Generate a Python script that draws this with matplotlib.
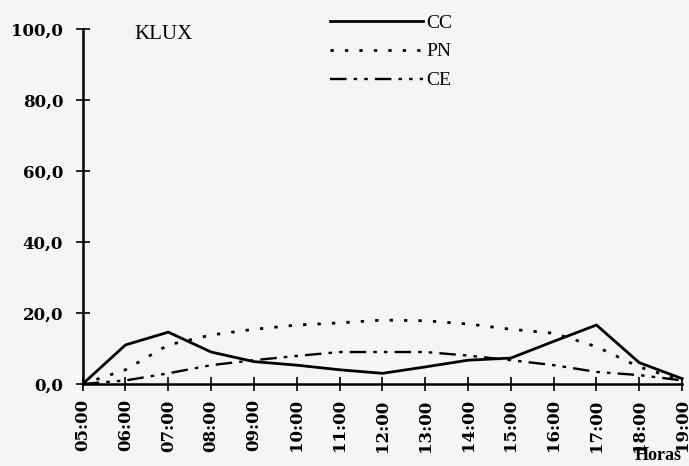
import numpy as np
import matplotlib.pyplot as plt

plt.rcParams['font.family'] = ['Liberation Serif', 'DejaVu Serif']

horas = ['05:00', '06:00', '07:00', '08:00', '09:00', '10:00', '11:00', '12:00',
         '13:00', '14:00', '15:00', '16:00', '17:00', '18:00', '19:00']
cc = [0.0, 11.0, 14.6, 9.0, 6.3, 5.3, 4.0, 3.0, 4.8, 6.7, 7.3, 12.0, 16.6, 6.0, 1.5]
pn = [0.0, 4.0, 11.0, 13.8, 15.4, 16.6, 17.2, 18.0, 17.8, 16.9, 15.4, 14.3, 10.5, 4.8, 1.0]
ce = [0.0, 1.0, 3.0, 5.3, 6.7, 7.9, 9.0, 9.0, 9.0, 8.0, 6.7, 5.3, 3.4, 2.5, 1.0]
yticks = [0, 20, 40, 60, 80, 100]
ylabels = ['0,0', '20,0', '40,0', '60,0', '80,0', '100,0']

bg = '#f5f5f5'
fig = plt.figure(figsize=(6.89, 4.66), dpi=100, facecolor=bg)
ax = fig.add_axes([0.12, 0.176, 0.87, 0.762], facecolor=bg)

x = np.arange(len(horas))
ax.plot(x, cc, color='black', lw=2.0, label='CC', clip_on=False)
ax.plot(x, pn, color='black', lw=2.0, linestyle=(0, (1.2, 4)), label='PN', clip_on=False)
ax.plot(x, ce, color='black', lw=1.7, linestyle=(0, (7, 3, 1.5, 3, 1.5, 3)), label='CE', clip_on=False)

ax.set_xlim(0, len(horas) - 1)
ax.set_ylim(0, 100)
ax.set_xticks(x)
ax.set_xticklabels(horas, rotation=90, fontsize=12, fontweight='bold',
                   family='DejaVu Serif')
ax.set_yticks(yticks)
ax.set_yticklabels(ylabels, fontsize=12, fontweight='bold', family='DejaVu Serif')
ax.tick_params(axis='both', direction='inout', length=10, width=1.2)
ax.tick_params(axis='y', pad=9)
ax.tick_params(axis='x', pad=6)

for s in ['top', 'right']:
    ax.spines[s].set_visible(False)
for s in ['left', 'bottom']:
    ax.spines[s].set_linewidth(1.8)

ax.text(0.087, 0.985, 'KLUX', transform=ax.transAxes, fontsize=15,
        va='center', ha='left')
ax.text(1.0, -0.2, 'Horas', transform=ax.transAxes, fontsize=13,
        fontweight='bold', va='center', ha='right')

leg = fig.legend(loc='upper left', bbox_to_anchor=(0.462, 0.995), frameon=False,
                 fontsize=14, handlelength=4.8, handletextpad=0.15,
                 labelspacing=0.58, borderaxespad=0.2)

fig.savefig('out.png', dpi=100, facecolor=bg)
